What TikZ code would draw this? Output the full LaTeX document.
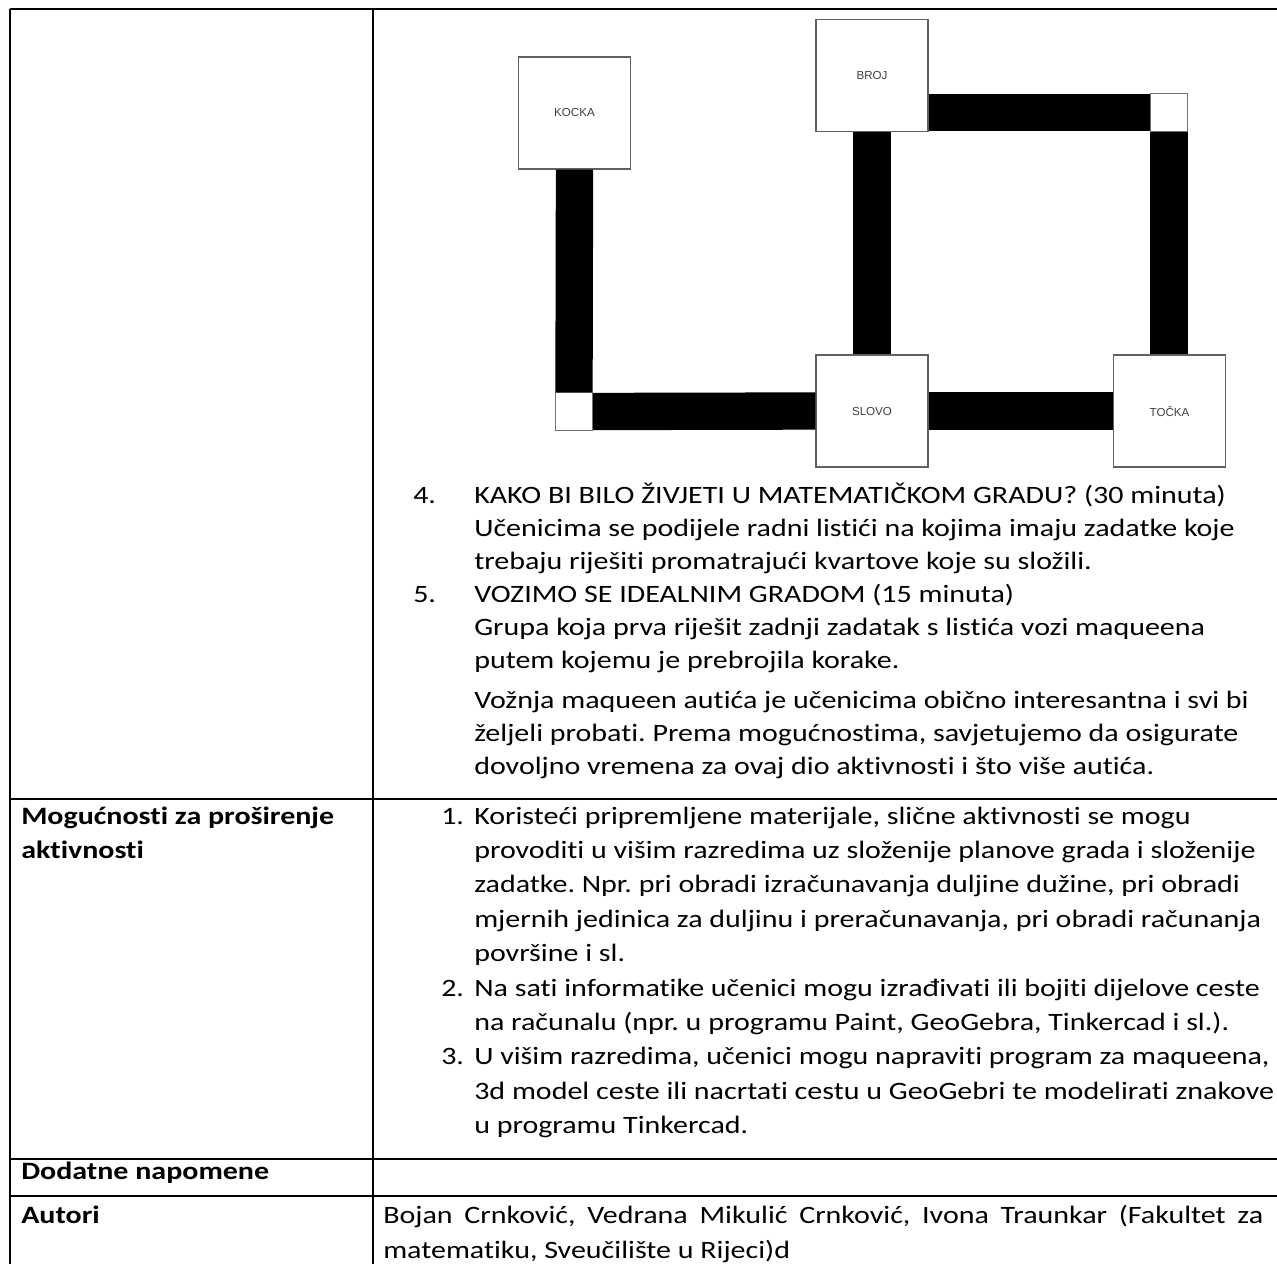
\documentclass[tikz,border=0pt]{standalone}
\usepackage{fontspec}
\setmainfont{Carlito}[FakeStretch=1.2,Ligatures=NoCommon]
\newfontfamily\arialfont{Liberation Sans}
\frenchspacing
\begin{document}
\begin{tikzpicture}[x=0.75pt,y=-0.75pt,
  tline/.style={line width=1.4pt,black},
  house/.style={draw=black!62,line width=0.9pt,fill=white,minimum width=84pt,minimum height=84pt,inner sep=0pt,
    font=\arialfont\fontsize{8.7pt}{10pt}\selectfont,text=black!75},
  corner/.style={draw=black!55,line width=0.8pt,fill=white,minimum width=28pt,minimum height=28pt,inner sep=0pt},
  road/.style={line width=28pt,black},
  txt/.style={anchor=base west,inner sep=0pt,font=\frenchspacing\fontsize{18.75pt}{22pt}\selectfont},
  btxt/.style={anchor=base west,inner sep=0pt,font=\frenchspacing\bfseries\fontsize{18.75pt}{22pt}\selectfont}]
\useasboundingbox (0,0) rectangle (1277,1264);
% table rules
\draw[tline] (10,9) -- (1277,9);
\draw[tline] (10,9) -- (10,1264);
\draw[tline] (372.7,9) -- (372.7,1264);
\draw[tline] (10,799) -- (1277,799);
\draw[tline] (10,1159) -- (1277,1159);
\draw[tline] (10,1196) -- (1277,1196);
% city plan
\node[house] (kocka) at (574.5,113) {KOCKA};
\node[house] (broj) at (872,75.5) {BROJ};
\node[house] (slovo) at (872,411) {SLOVO};
\node[house] (tocka) at (1169.5,411) {TOČKA};
\node[corner] (c1) at (574,411.5) {};
\node[corner] (c2) at (1169,112.5) {};
\draw[road] (kocka.south) -- (c1.north);
\draw[road] (c1.east) -- (slovo.west);
\draw[road] (broj.south) -- (slovo.north);
\draw[road] (broj.east |- c2.west) -- (c2.west);
\draw[road] (c2.south) -- (c2.south |- tocka.north);
\draw[road] (slovo.east) -- (tocka.west |- slovo.east);
% row 1 text
\node[txt] (n4) at (413,503) {4.};
\node[txt] (r1a) at (474,503) {KAKO BI BILO ŽIVJETI U MATEMATIČKOM GRADU? (30 minuta)};
\node[txt] (r1b) at (474,536) {Učenicima se podijele radni listići na kojima imaju zadatke koje};
\node[txt] (r1c) at (474,569) {trebaju riješiti promatrajući kvartove koje su složili.};
\node[txt] (n5) at (413,602) {5.};
\node[txt] (r1d) at (474,602) {VOZIMO SE IDEALNIM GRADOM (15 minuta)};
\node[txt] (r1e) at (474,635) {Grupa koja prva riješit zadnji zadatak s listića vozi maqueena};
\node[txt] (r1f) at (474,668) {putem kojemu je prebrojila korake.};
\node[txt] (r1g) at (474,708) {Vožnja maqueen autića je učenicima obično interesantna i svi bi};
\node[txt] (r1h) at (474,741) {željeli probati. Prema mogućnostima, savjetujemo da osigurate};
\node[txt] (r1i) at (474,774) {dovoljno vremena za ovaj dio aktivnosti i što više autića.};
% row 2
\node[btxt] (h2a) at (21,824) {Mogućnosti za proširenje};
\node[btxt] (h2b) at (21,858.4) {aktivnosti};
\node[txt] (n1) at (441,824) {1.};
\node[txt] (r2a) at (474,824) {Koristeći pripremljene materijale, slične aktivnosti se mogu};
\node[txt] (r2b) at (474,858.4) {provoditi u višim razredima uz složenije planove grada i složenije};
\node[txt] (r2c) at (474,892.8) {zadatke. Npr. pri obradi izračunavanja duljine dužine, pri obradi};
\node[txt] (r2d) at (474,927.2) {mjernih jedinica za duljinu i preračunavanja, pri obradi računanja};
\node[txt] (r2e) at (474,961.6) {površine i sl.};
\node[txt] (n2) at (441,996) {2.};
\node[txt] (r2f) at (474,996) {Na sati informatike učenici mogu izrađivati ili bojiti dijelove ceste};
\node[txt] (r2g) at (474,1030.4) {na računalu (npr. u programu Paint, GeoGebra, Tinkercad i sl.).};
\node[txt] (n3) at (441,1064.8) {3.};
\node[txt] (r2h) at (474,1064.8) {U višim razredima, učenici mogu napraviti program za maqueena,};
\node[txt] (r2i) at (474,1099.2) {3d model ceste ili nacrtati cestu u GeoGebri te modelirati znakove};
\node[txt] (r2j) at (474,1133.6) {u programu Tinkercad.};
% row 3
\node[btxt] (h3) at (21,1179) {Dodatne napomene};
% row 4
\node[btxt] (h4) at (21,1223) {Autori};
\node[txt] (au1) at (383,1223) {\makebox[660pt][s]{Bojan Crnković, Vedrana Mikulić Crnković, Ivona Traunkar (Fakultet za}};
\node[txt] (au2) at (383,1258) {matematiku, Sveučilište u Rijeci)d};
\end{tikzpicture}
\end{document}
